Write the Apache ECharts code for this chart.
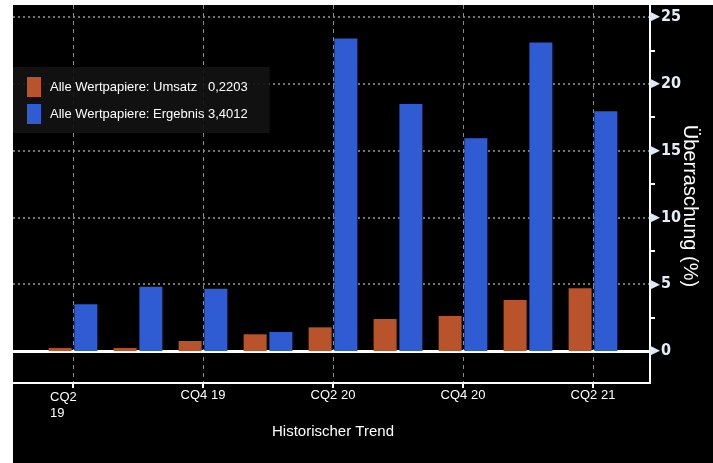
<!DOCTYPE html>
<html><head><meta charset="utf-8">
<script src="https://cdn.jsdelivr.net/npm/echarts@6/dist/echarts.min.js"></script>
<style>html,body{margin:0;padding:0;background:#fff}#c{width:713px;height:463px}</style>
</head><body><div id="c"></div>
<script>
// ---- data ----
const categories = ['CQ2 19','CQ3 19','CQ4 19','CQ1 20','CQ2 20','CQ3 20','CQ4 20','CQ1 21','CQ2 21'];
const umsatz = [0.22, 0.22, 0.75, 1.25, 1.77, 2.40, 2.62, 3.82, 4.69];
const ergebnis = [3.50, 4.80, 4.66, 1.42, 23.40, 18.49, 15.92, 23.10, 17.94];
const seriesNames = ['Alle Wertpapiere: Umsatz', 'Alle Wertpapiere: Ergebnis'];
const legendValues = ['0,2203', '3,4012'];
const yMin = 0, yMax = 25, yStep = 5;
const xTitle = 'Historischer Trend';
const yTitle = 'Überraschung (%)';

const FONT = 'Liberation Sans';
const NARROW = "'DejaVu Sans Condensed', 'Liberation Sans', sans-serif";
const chart = echarts.init(document.getElementById('c'));

const labelCats = categories.map((c, i) => i === 0 ? { value: c, textStyle: { padding: [0, 19, 0, 0] } } : c);

const option = {
  backgroundColor: '#fff',
  animation: false,
  textStyle: { fontFamily: FONT },
  graphic: [
    { type: 'rect', z: -100, silent: true, shape: { x: 13, y: 5, width: 700, height: 458 }, style: { fill: '#000' } },
    { type: 'text', x: 690, y: 206, rotation: -Math.PI / 2, silent: true,
      style: { text: yTitle, fill: '#fff', font: '20px "Liberation Sans"', align: 'center', verticalAlign: 'middle' } }
  ],
  legend: {
    data: seriesNames,
    orient: 'vertical',
    left: 13, top: 67,
    padding: [10, 22, 9, 14],
    itemGap: 7, itemWidth: 14, itemHeight: 20,
    icon: 'rect',
    backgroundColor: 'rgba(18,18,18,0.92)',
    formatter: function (name) {
      const i = seriesNames.indexOf(name);
      return '{n|' + name + '}{v|' + legendValues[i] + '}';
    },
    textStyle: {
      color: '#fff', fontSize: 13, fontFamily: FONT, padding: [0, 0, 0, 4],
      rich: {
        n: { width: 158, color: '#fff', fontSize: 13, fontFamily: FONT },
        v: { color: '#fff', fontSize: 13, fontFamily: FONT }
      }
    }
  },
  grid: [
    { left: 13, right: 63, top: 5, bottom: 80 },
    { left: 13, right: 63, top: 17, bottom: 112 },
    { left: 40.5, right: 87.5, top: 17, bottom: 112 },
    { left: 73, right: 120, top: 5, bottom: 80 }
  ],
  xAxis: [
    { gridIndex: 0, type: 'value', min: 0, max: 1,
      axisLine: { show: true, onZero: false, lineStyle: { color: '#fff', width: 2 } },
      axisTick: { show: false }, axisLabel: { show: false }, splitLine: { show: false } },
    { gridIndex: 1, type: 'category', data: categories,
      axisLine: { show: true, lineStyle: { color: '#fff', width: 3 } },
      axisTick: { show: false }, axisLabel: { show: false }, splitLine: { show: false } },
    { gridIndex: 2, type: 'category', data: categories, show: false },
    { gridIndex: 3, type: 'category', data: labelCats, boundaryGap: false,
      axisLine: { show: false },
      axisTick: { show: true, interval: 1, length: 5, lineStyle: { color: '#fff', width: 2 } },
      axisLabel: {
        interval: 1, color: '#fff', fontSize: 13, fontFamily: FONT, margin: 6,
        formatter: function (v, i) { return i === 0 ? '{f|CQ2}\n{f|19}' : v; },
        rich: { f: { width: 27, align: 'left', color: '#fff', fontSize: 13, fontFamily: FONT, lineHeight: 16 } }
      },
      splitLine: { show: true, interval: 1, lineStyle: { color: '#8a8a8a', type: [4, 4], width: 1 } },
      name: xTitle, nameLocation: 'middle', nameGap: 37,
      nameTextStyle: { color: '#fff', fontSize: 15, fontFamily: FONT } }
  ],
  yAxis: [
    { gridIndex: 0, type: 'value', min: 0, max: 1, position: 'right',
      axisLine: { show: true, onZero: false, lineStyle: { color: '#fff', width: 2 } },
      axisTick: { show: false }, axisLabel: { show: false }, splitLine: { show: false } },
    { gridIndex: 1, type: 'value', min: yMin, max: yMax, interval: yStep, position: 'right',
      axisLine: { show: false, onZero: false },
      axisTick: { show: false },
      minorTick: { show: true, splitNumber: 2, length: 5, lineStyle: { color: '#fff', width: 2 } },
      axisLabel: {
        margin: 0,
        formatter: function (v) { return '{a|\u25B6}{b|' + v + '}'; },
        rich: {
          a: { fontSize: 13, color: '#dfe8f5', fontFamily: 'DejaVu Sans' },
          b: { fontSize: 16, fontWeight: 'bold', color: '#e6edf7', fontFamily: NARROW, padding: [0, 0, 0, 1] }
        }
      },
      splitLine: { show: true, lineStyle: { color: '#9a9a9a', type: [2, 3], width: 1.5 } } },
    { gridIndex: 2, type: 'value', min: yMin, max: yMax, show: false },
    { gridIndex: 3, type: 'value', min: 0, max: 1, show: false }
  ],
  series: [
    { name: seriesNames[0], type: 'bar', xAxisIndex: 2, yAxisIndex: 2, data: umsatz,
      barWidth: 23, barGap: '12%', itemStyle: { color: '#b8532c' } },
    { name: seriesNames[1], type: 'bar', xAxisIndex: 2, yAxisIndex: 2, data: ergebnis,
      barWidth: 23, barGap: '12%', itemStyle: { color: '#2f5bd3' } }
  ]
};
chart.setOption(option);
</script></body></html>
